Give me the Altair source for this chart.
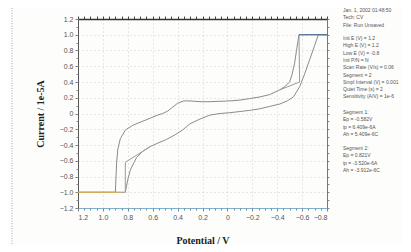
import altair as alt
import pandas as pd

# ---- data ----
# segment going from 1.2 V towards -0.8 V (lower branch)
E_fwd = [1.2, 0.82, 0.82, 0.80, 0.78, 0.75, 0.73, 0.68, 0.62, 0.55, 0.49, 0.42, 0.36, 0.30, 0.22,
         0.14, 0.06, -0.02, -0.10, -0.18, -0.26, -0.34, -0.42, -0.48, -0.53, -0.58, -0.62, -0.66,
         -0.70, -0.73, -0.8]
I_fwd = [-1.0, -1.0, -1.0, -0.84, -0.72, -0.62, -0.56, -0.48, -0.42, -0.37, -0.33, -0.27, -0.21,
         -0.13, -0.07, -0.02, 0.0, 0.01, 0.025, 0.04, 0.06, 0.09, 0.12, 0.16, 0.21, 0.34, 0.50,
         0.68, 0.86, 1.0, 1.0]
# segment going from -0.8 V back to 1.2 V (upper branch)
E_rev = [-0.8, -0.575, -0.555, -0.54, -0.52, -0.50, -0.46, -0.42, -0.34, -0.26, -0.18, -0.10,
         -0.02, 0.06, 0.14, 0.22, 0.30, 0.35, 0.40, 0.44, 0.48, 0.52, 0.56, 0.62, 0.70, 0.76,
         0.82, 0.86, 0.88, 0.89, 0.90, 1.2]
I_rev = [1.0, 1.0, 0.80, 0.64, 0.50, 0.40, 0.34, 0.30, 0.24, 0.21, 0.19, 0.17, 0.16, 0.155,
         0.15, 0.15, 0.16, 0.16, 0.13, 0.08, 0.03, 0.0, -0.02, -0.06, -0.11, -0.15, -0.21,
         -0.32, -0.45, -0.63, -1.0, -1.0]
# straight connector lines (clipped data)
E_cut1 = [0.82, 0.82, 0.62]
I_cut1 = [-1.0, -0.62, -0.42]
E_cut2 = [-0.575, -0.58, -0.42]
I_cut2 = [1.0, 0.40, 0.30]
# flat saturated pieces
E_flat_lo = [1.2, 0.86]
I_flat_lo = [-1.0, -1.0]
E_flat_hi = [-0.575, -0.8]
I_flat_hi = [1.0, 1.0]

x_major = [1.2, 1.0, 0.8, 0.6, 0.4, 0.2, 0.0, -0.2, -0.4, -0.6, -0.8]
y_major = [1.2, 1.0, 0.8, 0.6, 0.4, 0.2, 0.0, -0.2, -0.4, -0.6, -0.8, -1.0, -1.2]
x_minor = [round(1.2 - 0.05 * k, 2) for k in range(41)]
y_minor = [round(1.2 - 0.1 * k, 2) for k in range(25)]

info_header = ["Jan. 1, 2002   01:48:50", "Tech: CV", "File: Run Unsaved"]
info_params = [
    "Init E (V) = 1.2",
    "High E (V) = 1.2",
    "Low E (V) = -0.8",
    "Init P/N = N",
    "Scan Rate (V/s) = 0.06",
    "Segment = 2",
    "Smpl Interval (V) = 0.001",
    "Quiet Time (s) = 2",
    "Sensitivity (A/V) = 1e-6",
]
info_seg1 = ["Segment 1:", "Ep = -0.582V", "ip = 6.409e-6A", "Ah = 5.409e-6C"]
info_seg2 = ["Segment 2:", "Ep = 0.821V", "ip = -3.520e-6A", "Ah = -3.912e-6C"]

rows = []
for name, es, is_ in [("fwd", E_fwd, I_fwd), ("rev", E_rev, I_rev), ("cut1", E_cut1, I_cut1),
                      ("cut2", E_cut2, I_cut2), ("flatlo", E_flat_lo, I_flat_lo),
                      ("flathi", E_flat_hi, I_flat_hi)]:
    for k, (e, i) in enumerate(zip(es, is_)):
        rows.append({"trace": name, "k": k, "E": e, "I": i})
df = pd.DataFrame(rows)

W, H = 249, 189
xscale = alt.Scale(domain=[-0.8, 1.2], reverse=True, nice=False, zero=False)
yscale = alt.Scale(domain=[-1.2, 1.2], nice=False, zero=False)
fmt = "datum.value == 0 ? '0' : format(datum.value, '.1f')"

curves = alt.Chart(df).mark_line(strokeWidth=1, clip=False).encode(
    x=alt.X("E:Q", scale=xscale, axis=alt.Axis(
        values=x_major, labelExpr=fmt, title="Potential / V", orient="bottom",
        labelFont="Liberation Sans", labelFontSize=7, labelColor="#555", labelPadding=2,
        tickSize=3, tickColor="#7a8a99", domainColor="#7fb0d0", domainWidth=1.2,
        grid=True, gridColor="#d0d0d0", gridDash=[1, 3], gridWidth=1,
        titleFont="Liberation Serif", titleFontSize=10, titleFontWeight="bold", titleColor="#222",
        titleX=W / 2, titleY=32, titleBaseline="middle", titleAlign="center")),
    y=alt.Y("I:Q", scale=yscale, axis=alt.Axis(
        values=y_major, labelExpr=fmt, title="Current / 1e-5A", orient="left",
        labelFont="Liberation Sans", labelFontSize=7, labelColor="#555", labelPadding=2,
        tickSize=3, tickColor="#777", domainColor="#555",
        grid=True, gridColor="#d0d0d0", gridDash=[1, 3], gridWidth=1,
        titleFont="Liberation Serif", titleFontSize=10, titleFontWeight="bold", titleColor="#222",
        titleX=-38, titleY=H / 2, titleAngle=-90, titleBaseline="middle", titleAlign="center")),
    detail="trace:N",
    order="k:Q",
    color=alt.Color("trace:N", legend=None, scale=alt.Scale(
        domain=["fwd", "rev", "cut1", "cut2", "flatlo", "flathi"],
        range=["#8c8c8c", "#8a8a8a", "#9a9a9a", "#9a9a9a", "#e6b450", "#4a6a95"])),
)

top_ticks = alt.Chart(df).mark_line(opacity=0).encode(
    x=alt.X("E:Q", scale=xscale, axis=alt.Axis(
        orient="top", values=x_minor, labels=False, title=None, grid=False,
        tickSize=3, tickColor="#444", domainColor="#333", domainWidth=1.6)),
    y=alt.Y("I:Q", scale=yscale, axis=None),
)

left_minor = alt.Chart(df).mark_line(opacity=0).encode(
    x=alt.X("E:Q", scale=xscale, axis=alt.Axis(
        orient="bottom", values=x_minor, labels=False, title=None, grid=False,
        tickSize=2, tickColor="#7a8a99", domain=False)),
    y=alt.Y("I:Q", scale=yscale, axis=alt.Axis(
        orient="left", values=y_minor, labels=False, title=None, grid=False,
        tickSize=2, tickColor="#888", domain=False)),
)

right_axis = alt.Chart(df).mark_line(opacity=0).encode(
    x=alt.X("E:Q", scale=xscale, axis=None),
    y=alt.Y("I:Q", scale=yscale, axis=alt.Axis(
        orient="right", values=y_minor, labels=False, title=None, grid=False,
        tickSize=2, tickColor="#888", domainColor="#777")),
)

one = pd.DataFrame({"a": [0]})


def info_block(lines, top):
    return alt.Chart(one).mark_text(
        text=lines, align="left", baseline="top", font="Liberation Sans", fontSize=5.0,
        lineHeight=7.3, color="#555"
    ).encode(x=alt.value(W + 16), y=alt.value(top))


info = [info_block(info_header, -11), info_block(info_params, 17),
        info_block(info_seg1, 91), info_block(info_seg2, 127)]

frame = alt.Chart(one).mark_rule(
    strokeDash=[1, 1.5], color="#aaa", strokeWidth=1
).encode(x=alt.value(-66), y=alt.value(-11), y2=alt.value(H + 44))

chart = alt.layer(curves, top_ticks, left_minor, right_axis, *info, frame).resolve_axis(
    x="independent", y="independent"
).properties(
    width=W, height=H,
    autosize=alt.AutoSizeParams(type="none"),
    padding={"left": 70, "top": 11, "right": 76, "bottom": 36},
).configure_view(stroke=None).configure(background="#fdfdfc")

chart.save("out.html", embed_options={"renderer": "svg", "actions": False})
